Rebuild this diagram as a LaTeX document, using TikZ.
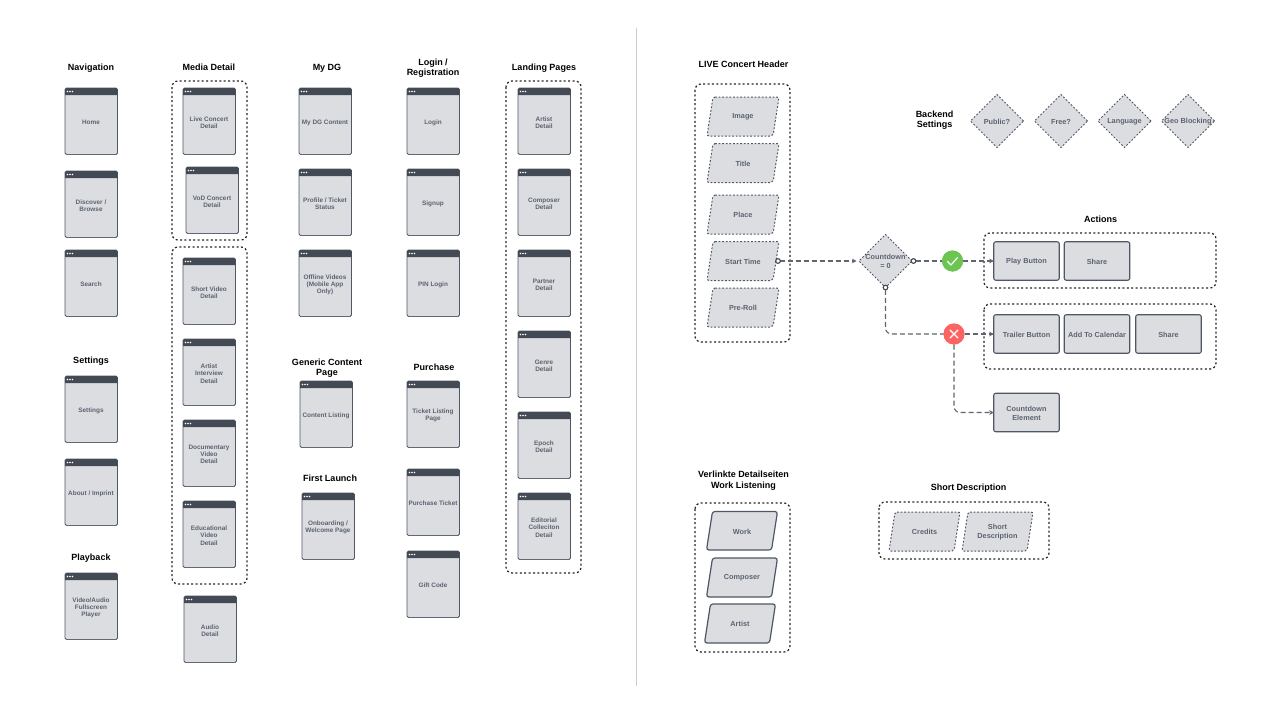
\documentclass[tikz,border=0pt]{standalone}
\usepackage{fontspec}
\setmainfont{Liberation Sans}
\usetikzlibrary{arrows.meta,shapes.geometric,calc}
\definecolor{boxfill}{HTML}{DCDDE1}
\definecolor{barc}{HTML}{434A54}
\definecolor{edgec}{HTML}{4F5765}
\definecolor{txtc}{HTML}{5B6370}
\definecolor{linkc}{HTML}{5F6670}
\definecolor{okc}{HTML}{6CC551}
\definecolor{noc}{HTML}{FC6363}
\tikzset{
  x=1pt,y=-1pt,
  title/.style={font=\fontsize{9}{10.5}\selectfont\bfseries,text=black,align=center,inner sep=0,yshift=-.8pt},
  winbox/.style={draw=edgec,line width=.9pt,fill=boxfill,rounded corners=1.5pt,minimum width=52.5pt,minimum height=66.5pt,inner sep=0,outer sep=0},
  wintext/.style={inner sep=0,outer sep=0,align=center,text=txtc,font=\fontsize{6.4}{7.2}\selectfont\bfseries},
  groupbox/.style={draw=black!85,line width=1.25pt,dash pattern=on 2pt off 2.4pt,rounded corners=6pt},
  paratext/.style={inner sep=0,outer sep=0,align=center,text=txtc,font=\fontsize{7.3}{9}\selectfont\bfseries,yshift=-.7pt},
  dotshape/.style={draw=edgec,fill=boxfill,line width=1pt,dash pattern=on 1.8pt off 1.8pt,rounded corners=2pt},
  solidshape/.style={draw=edgec,fill=boxfill,line width=1.2pt,rounded corners=2.5pt},
  btn/.style={draw=edgec,fill=boxfill,line width=1.1pt,rounded corners=2pt,inner sep=0,outer sep=0,minimum width=65.5pt,minimum height=38.5pt},
  deci/.style={diamond,aspect=1,draw=edgec,fill=boxfill,line width=1pt,dash pattern=on 1.8pt off 1.8pt,minimum width=53pt,minimum height=53pt,inner sep=0,outer sep=0},
  link/.style={draw=linkc,line width=1.1pt,dash pattern=on 5pt off 3pt,rounded corners=6pt},
  linkarrow/.style={link,-{Stealth[length=4.5pt,width=4.5pt]}},
  port/.style={circle,draw=barc,fill=white,line width=1pt,minimum size=4.5pt,inner sep=0,outer sep=0},
  status/.style={circle,minimum size=21pt,inner sep=0,outer sep=0},
  mark stroke/.style={draw=white,line width=1.2pt,line cap=round,line join=round},
}
% name, left x, top y, text
\newcommand{\win}[4]{%
  \node[winbox] (#1) at (#2+26.25,#3+33.25) {};
  \draw[edgec!90,line width=1.4pt,line cap=round] (#2+1.5,#3+66.4) -- (#2+51,#3+66.4);
  \fill[barc] (#2,#3+7) [rounded corners=1.5pt] -- (#2,#3) -- (#2+52.5,#3) [sharp corners] -- (#2+52.5,#3+7) -- cycle;
  \fill[white] (#2+2.5,#3+3.5) circle[radius=.8pt] (#2+5,#3+3.5) circle[radius=.8pt] (#2+7.5,#3+3.5) circle[radius=.8pt];
  \node[wintext] (#1t) at (#2+26,#3+34.6) {#4};
}
% name, left x (bottom), right x (top), top y, bottom y, style, text
\newcommand{\para}[7]{%
  \path[#6] (#2+6,#4) -- (#3,#4) -- (#3-6,#5) -- (#2,#5) -- cycle;
  \node[paratext] (#1) at ({(#2+#3)/2},{(#4+#5)/2}) {#7};
}
\begin{document}
\begin{tikzpicture}
\useasboundingbox (0,0) rectangle (1280,720);
\fill[white] (0,0) rectangle (1280,720);
\draw[black!20,line width=1pt] (636,28) -- (636,686);

% groups
\draw[groupbox] (172,81) rectangle (247,240);
\draw[groupbox] (172,247) rectangle (247,584);
\draw[groupbox] (506,81) rectangle (581,573);
\draw[groupbox] (695,84) rectangle (790,342);
\draw[groupbox] (695,503) rectangle (790,652);
\draw[groupbox] (879,502) rectangle (1049,559);
\draw[groupbox] (984,233) rectangle (1216,288);
\draw[groupbox] (984,304) rectangle (1216,369);

% titles
\node[title] (tNav) at (91,67) {Navigation};
\node[title] (tMedia) at (209,66.5) {Media Detail};
\node[title] (tMy) at (327,67) {My DG};
\node[title] (tLogin) at (433,67.5) {Login /\\Registration};
\node[title] (tLand) at (544,67) {Landing Pages};
\node[title] (tSet) at (91,360) {Settings};
\node[title] (tPlay) at (91,557) {Playback};
\node[title] (tGen) at (327,367.5) {Generic Content\\Page};
\node[title] (tFirst) at (330,477.5) {First Launch};
\node[title] (tPur) at (434,366.5) {Purchase};
\node[title] (tLive) at (743.5,63.5) {LIVE Concert Header};
\node[title] (tBack) at (934.5,119.5) {Backend\\Settings};
\node[title] (tAct) at (1100.5,218.5) {Actions};
\node[title] (tVer) at (743.5,479.7) {Verlinkte Detailseiten\\Work Listening};
\node[title] (tShort) at (968.5,487.5) {Short Description};

% column 1
\win{home}{65}{88}{Home}
\win{disc}{65}{171}{Discover /\\Browse}
\win{sear}{65}{250}{Search}
\win{sett}{65}{376}{Settings}
\win{abou}{65}{459}{About / Imprint}
\win{vide}{65}{573}{Video/Audio\\Fullscreen\\Player}
% column 2
\win{livd}{183}{88}{Live Concert\\Detail}
\win{vodd}{186}{167}{VoD Concert\\Detail}
\win{shrt}{183}{258}{Short Video\\Detail}
\win{arti}{183}{339}{Artist\\Interview\\Detail}
\win{docu}{183}{420}{Documentary\\Video\\Detail}
\win{educ}{183}{501}{Educational\\Video\\Detail}
\win{audi}{184}{596}{Audio\\Detail}
% column 3
\win{mydg}{299}{88}{My DG Content}
\win{prof}{299}{169}{Profile / Ticket\\Status}
\win{offl}{299}{250}{Offline Videos\\(Mobile App\\Only)}
\win{cont}{300}{381}{Content Listing}
\win{onbo}{302}{493}{Onboarding /\\Welcome Page}
% column 4
\win{logi}{407}{88}{Login}
\win{sign}{407}{169}{Signup}
\win{pinl}{407}{250}{PIN Login}
\win{tick}{407}{381}{Ticket Listing\\Page}
\win{purc}{407}{469}{Purchase Ticket}
\win{gift}{407}{551}{Gift Code}
% column 5
\win{lart}{518}{88}{Artist\\Detail}
\win{lcom}{518}{169}{Composer\\Detail}
\win{lpar}{518}{250}{Partner\\Detail}
\win{lgen}{518}{331}{Genre\\Detail}
\win{lepo}{518}{412}{Epoch\\Detail}
\win{ledi}{518}{493}{Editorial\\Colleciton\\Detail}

% header fields
\para{pImage}{707}{779}{97}{136}{dotshape}{Image}
\para{pTitle}{707}{779}{143.5}{182.5}{dotshape}{Title}
\para{pPlace}{707}{779}{195}{234}{dotshape}{Place}
\para{pStart}{707}{779}{241.5}{280.5}{dotshape}{Start Time}
\para{pPre}{707}{779}{288}{327}{dotshape}{Pre-Roll}
% linked pages
\para{pWork}{706.5}{777.5}{511.5}{550}{solidshape}{Work}
\para{pComp}{706.5}{777.5}{558}{597}{solidshape}{Composer}
\para{pArt}{704.5}{775.5}{604}{643}{solidshape}{Artist}
% short description
\para{pCred}{889}{960}{512}{551}{dotshape}{Credits}
\para{pDesc}{962}{1033}{512}{551}{dotshape}{Short\\Description}

% backend settings
\node[deci,label={[paratext]center:Public?}] (dPub) at (997,121) {};
\node[deci,label={[paratext]center:Free?}] (dFree) at (1061,121) {};
\node[deci,label={[paratext]center:Language}] (dLang) at (1124.5,121) {};
\node[deci,label={[paratext]center:Geo Blocking}] (dGeo) at (1188,121) {};

% actions
\node[btn,label={[paratext]center:Play Button}] (bPlay) at (1026.5,261) {};
\node[btn,label={[paratext]center:Share}] (bShare) at (1097,261) {};
\node[btn,label={[paratext]center:Trailer Button}] (bTrail) at (1026.5,334) {};
\node[btn,label={[paratext]center:Add To Calendar}] (bCal) at (1097,334) {};
\node[btn,label={[paratext]center:Share}] (bShareB) at (1168.5,334) {};
\node[btn,label={[paratext]center:Countdown\\Element}] (bCount) at (1026.5,412.5) {};

% decision and status
\node[deci,label={[paratext]center:Countdown\\= 0}] (dCount) at (885.5,261) {};
\node[status,fill=okc] (sOk) at (952.5,261) {};
\node[status,fill=noc] (sNo) at (954,334) {};
\coordinate (startOut) at (778,261);
\coordinate (cdEast) at (913.5,261);
\node[port] (pa) at (startOut) {};
\node[port] (pb) at (cdEast) {};
\node[port] (pc) at (dCount.south) {};

% connectors
\draw[linkarrow,shorten >=2.5pt] (pa) -- (dCount.west);
\draw[link] (pb) -- (sOk);
\draw[linkarrow] (sOk) -- (bPlay.west);
\draw[link] (pc) |- (sNo);
\draw[linkarrow] (sNo) -- (bTrail.west);
\draw[linkarrow] (sNo) |- (bCount.west);

% status marks and ports on top
\node[status,fill=okc] at (sOk) {};
\node[status,fill=noc] at (sNo) {};
\draw[mark stroke] ($(sOk)+(-5,.5)$) -- ($(sOk)+(-1.5,4)$) -- ($(sOk)+(5,-3.5)$);
\draw[mark stroke] ($(sNo)+(-4,-4)$) -- ($(sNo)+(4,4)$) ($(sNo)+(4,-4)$) -- ($(sNo)+(-4,4)$);
\node[port] at (pa) {};
\node[port] at (pb) {};
\node[port] at (pc) {};
\end{tikzpicture}
\end{document}
